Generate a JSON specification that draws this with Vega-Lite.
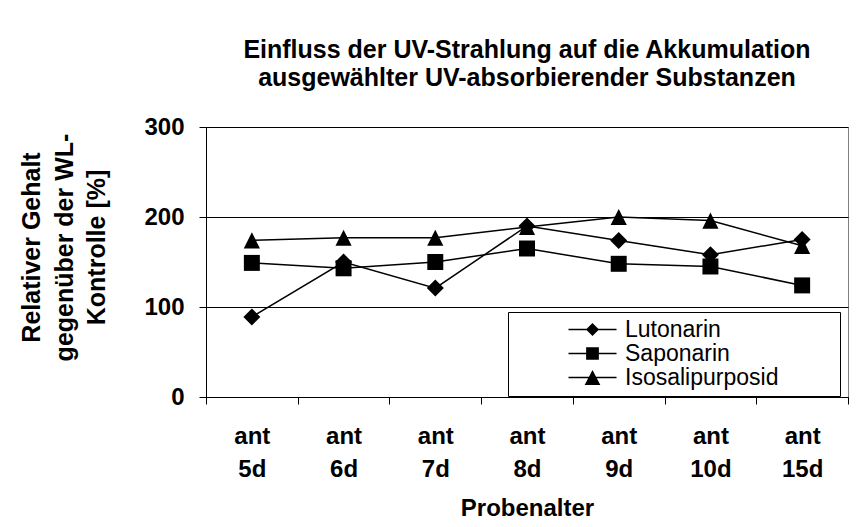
{
  "$schema": "https://vega.github.io/schema/vega-lite/v6.json",
  "width": 642,
  "height": 270,
  "autosize": {"type": "none"},
  "padding": {"left": 206, "top": 127, "right": 16, "bottom": 130},
  "background": "white",
  "title": {
    "text": ["Einfluss der UV-Strahlung auf die Akkumulation", "ausgewählter UV-absorbierender Substanzen"],
    "fontSize": 25,
    "font": "Liberation Sans",
    "fontWeight": "bold",
    "color": "black",
    "lineHeight": 28,
    "anchor": "middle",
    "baseline": "bottom",
    "offset": -1
  },
  "data": {
    "values": [
      {"Probenalter": "ant 5d", "Substanz": "Lutonarin", "Wert": 89},
      {"Probenalter": "ant 6d", "Substanz": "Lutonarin", "Wert": 150},
      {"Probenalter": "ant 7d", "Substanz": "Lutonarin", "Wert": 121},
      {"Probenalter": "ant 8d", "Substanz": "Lutonarin", "Wert": 190},
      {"Probenalter": "ant 9d", "Substanz": "Lutonarin", "Wert": 174},
      {"Probenalter": "ant 10d", "Substanz": "Lutonarin", "Wert": 158},
      {"Probenalter": "ant 15d", "Substanz": "Lutonarin", "Wert": 175},
      {"Probenalter": "ant 5d", "Substanz": "Saponarin", "Wert": 149},
      {"Probenalter": "ant 6d", "Substanz": "Saponarin", "Wert": 143},
      {"Probenalter": "ant 7d", "Substanz": "Saponarin", "Wert": 150},
      {"Probenalter": "ant 8d", "Substanz": "Saponarin", "Wert": 165},
      {"Probenalter": "ant 9d", "Substanz": "Saponarin", "Wert": 148},
      {"Probenalter": "ant 10d", "Substanz": "Saponarin", "Wert": 145},
      {"Probenalter": "ant 15d", "Substanz": "Saponarin", "Wert": 124},
      {"Probenalter": "ant 5d", "Substanz": "Isosalipurposid", "Wert": 174},
      {"Probenalter": "ant 6d", "Substanz": "Isosalipurposid", "Wert": 177},
      {"Probenalter": "ant 7d", "Substanz": "Isosalipurposid", "Wert": 177},
      {"Probenalter": "ant 8d", "Substanz": "Isosalipurposid", "Wert": 189},
      {"Probenalter": "ant 9d", "Substanz": "Isosalipurposid", "Wert": 200},
      {"Probenalter": "ant 10d", "Substanz": "Isosalipurposid", "Wert": 196},
      {"Probenalter": "ant 15d", "Substanz": "Isosalipurposid", "Wert": 168}
    ]
  },
  "encoding": {
    "x": {
      "field": "Probenalter",
      "type": "nominal",
      "sort": ["ant 5d", "ant 6d", "ant 7d", "ant 8d", "ant 9d", "ant 10d", "ant 15d"],
      "bandPosition": 0.5,
      "scale": {"type": "band", "paddingInner": 0, "paddingOuter": 0},
      "axis": {
        "title": "Probenalter",
        "labelExpr": "split(datum.label, ' ')",
        "labelAngle": 0,
        "tickBand": "extent",
        "tickSize": 7,
        "labelPadding": 20,
        "labelLineHeight": 33,
        "titlePadding": 15,
        "grid": false
      }
    },
    "y": {
      "field": "Wert",
      "type": "quantitative",
      "scale": {"domain": [0, 300]},
      "axis": {
        "values": [0, 100, 200, 300],
        "title": ["Relativer Gehalt", "gegenüber der WL-", "Kontrolle [%]"],
        "titleFontSize": 25,
        "titleLineHeight": 32.5,
        "titlePadding": 34,
        "titleY": 120,
        "tickSize": 7,
        "labelPadding": 15,
        "grid": true
      }
    }
  },
  "layer": [
    {
      "mark": {"type": "line", "color": "black", "strokeWidth": 1.5},
      "encoding": {"detail": {"field": "Substanz", "type": "nominal"}}
    },
    {
      "mark": {"type": "point", "filled": true, "color": "black", "opacity": 1, "size": 289},
      "encoding": {
        "shape": {
          "field": "Substanz",
          "type": "nominal",
          "scale": {
            "domain": ["Lutonarin", "Saponarin", "Isosalipurposid"],
            "range": ["M0,-1L1,0L0,1L-1,0Z", "M-0.94,-0.94H0.94V0.94H-0.94Z", "M0,-0.95L0.95,0.95H-0.95Z"]
          },
          "legend": null
        }
      }
    },
    {
      "mark": {"type": "point", "filled": true, "color": "black", "opacity": 0, "size": 196},
      "encoding": {
        "shape": {
          "field": "Substanz",
          "type": "nominal",
          "scale": {
            "domain": ["Lutonarin", "Saponarin", "Isosalipurposid"],
            "range": [
              "M-3.43,-0.11H3.43V0.11H-3.43ZM0,-0.93L0.93,0L0,0.93L-0.93,0Z",
              "M-3.43,-0.11H3.43V0.11H-3.43ZM-0.91,-0.91H0.91V0.91H-0.91Z",
              "M-3.43,-0.11H3.43V0.11H-3.43ZM0,-1.07L1.12,1.07H-1.12Z"
            ]
          },
          "legend": {
            "orient": "none",
            "legendX": 302,
            "legendY": 185,
            "title": "\u00a0",
            "titleOrient": "right",
            "titlePadding": 56,
            "titleFontSize": 23,
            "padding": 6,
            "strokeColor": "black",
            "fillColor": "white",
            "symbolSize": 196,
            "symbolOffset": 67,
            "symbolFillColor": "black",
            "labelOffset": 21,
            "labelFontSize": 23,
            "labelFontWeight": "normal",
            "labelColor": "black",
            "rowPadding": 0,
            "encode": {
              "symbols": {
                "update": {
                  "fill": {"value": "black"},
                  "opacity": {"value": 1}
                }
              }
            }
          }
        }
      }
    }
  ],
  "resolve": {"scale": {"shape": "independent"}},
  "config": {
    "font": "Liberation Sans",
    "view": {"stroke": "#808080", "strokeWidth": 1},
    "axis": {
      "domainColor": "black",
      "domainWidth": 1,
      "tickColor": "black",
      "tickWidth": 1,
      "gridColor": "black",
      "gridWidth": 1,
      "labelFontSize": 24,
      "labelFontWeight": "bold",
      "labelColor": "black",
      "titleFontSize": 24,
      "titleFontWeight": "bold",
      "titleColor": "black"
    }
  }
}
